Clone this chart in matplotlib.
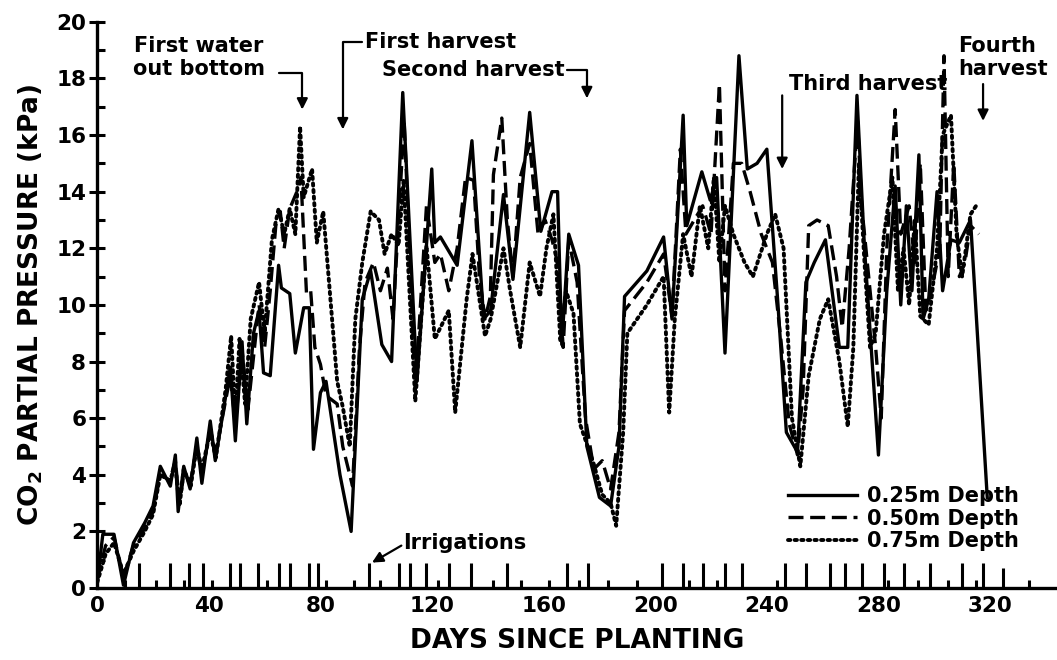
# CO2 partial pressure in the soil profile vs days since planting

import matplotlib
matplotlib.use("Agg")
import matplotlib.pyplot as plt
from matplotlib.lines import Line2D

plt.rcParams['font.family'] = ['DejaVu Sans']
plt.rcParams['font.weight'] = 'bold'
plt.rcParams['axes.labelweight'] = 'bold'

# 1. Data

# 0.25 m depth (solid)
days_25 = [0, 2, 6, 9.4, 13, 17, 20, 22.6, 26.2, 28, 29, 31, 33.3, 35.7, 37.5, 40.5, 42.3,
           47.7, 49.5, 51.9, 53.6, 56, 58, 59.6, 62, 65, 66, 69, 71, 74, 76, 77.5, 80, 82,
           87, 91, 95, 98, 102, 105.5, 109.5, 114.6, 119.9, 121, 123, 129, 134.3, 138.5,
           141, 145.6, 149, 155, 159, 163, 165, 166.5, 169, 172.5, 175.5, 180, 184, 187,
           189, 197, 203, 206, 210, 211.3, 216.7, 219.7, 222, 225, 230, 233, 236.5, 240,
           244, 247, 251, 254, 257, 261, 266, 269, 272.3, 275, 280, 283, 286, 288,
           290, 292, 294.5, 296, 298, 301, 303, 306, 309, 313, 319]
co2_25 = [0.2, 1.9, 1.9, 0.1, 1.6, 2.3, 2.9, 4.3, 3.6, 4.7, 2.7, 4.3, 3.5, 5.3, 3.7, 5.9, 4.5,
          7.8, 5.2, 8.7, 5.8, 9.0, 9.8, 7.6, 7.5, 11.4, 10.6, 10.4, 8.3, 9.9, 9.9, 4.9, 6.9, 7.3,
          4.0, 2.0, 10.2, 11.2, 8.6, 8.0, 17.5, 7.3, 14.8, 12.2, 12.4, 11.4, 15.8, 9.5,
          9.8, 13.9, 10.9, 16.8, 12.6, 14.0, 14.0, 8.6, 12.5, 11.4, 5.0, 3.2, 2.9, 5.0,
          10.3, 11.2, 12.4, 9.5, 16.7, 12.8, 14.7, 13.7, 14.5, 8.3, 18.8, 14.8, 15.0, 15.5,
          10.0, 5.5, 4.8, 10.8, 11.5, 12.3, 8.5, 8.5, 17.4, 12.0, 4.7, 10.5, 14.2, 10.0,
          13.5, 10.5, 15.3, 9.5, 10.2, 14.0, 10.5, 12.3, 12.2, 13.0, 3.2]

# 0.50 m depth (dashed)
days_50 = [0, 3, 6, 9.4, 13, 17, 20, 22.6, 26, 28, 29.5, 31, 33.5, 35.7, 37.5, 40.5, 42.5,
           47.7, 49.5, 52, 54, 58, 60, 62, 64, 65.6, 67, 69, 72, 73, 75, 76.5, 78, 80, 82,
           86, 88, 91.5, 94, 96, 99, 101.5, 104, 106, 110, 114, 118, 121, 123, 126, 129,
           132, 134.9, 137, 139, 140.9, 142, 145, 147, 149, 151.6, 155, 158, 160.5, 163,
           165, 167, 169, 172, 175, 178, 181, 184, 187, 189, 197, 203, 206, 209, 211, 214,
           217, 220, 223, 225, 228, 231, 234, 238, 242, 245, 248, 251, 253, 255, 258, 262,
           265, 267, 269.5, 272.5, 274, 276, 279, 281, 283, 286, 288, 291, 293, 295, 297,
           299, 302, 303.5, 305, 307, 309, 311, 313, 316]
co2_50 = [0.3, 1.5, 1.8, 0.4, 1.5, 2.1, 2.7, 4.0, 3.8, 4.5, 3.0, 4.0, 3.8, 5.0, 4.0, 5.6, 4.8,
          7.5, 5.8, 8.3, 6.3, 10.0, 8.5, 10.5, 12.8, 13.3, 12.0, 13.4, 14.1, 14.5, 10.4, 10.5,
          8.5, 7.9, 6.8, 6.5, 5.0, 3.6, 8.5, 10.8, 11.5, 10.5, 11.3, 9.5, 16.5, 7.0, 13.5,
          11.5, 11.8, 10.5, 12.0, 14.5, 14.4, 11.0, 9.5, 10.3, 14.6, 16.6, 13.0, 11.0, 14.5,
          15.7, 12.5, 13.0, 12.3, 11.5, 8.5, 12.3, 10.8, 6.0, 4.2, 4.5, 3.5, 5.5, 9.8, 10.8,
          11.8, 9.6, 15.5, 12.5, 13.0, 13.5, 12.5, 17.8, 10.5, 15.0, 15.0, 14.0, 12.5, 11.5,
          8.8, 5.8, 4.7, 7.0, 12.8, 13.0, 12.8, 11.0, 9.2, 12.0, 16.5, 13.5, 11.5, 8.5, 6.0,
          12.0, 16.9, 12.5, 13.5, 11.5, 15.0, 9.8, 10.5, 12.0, 18.8, 11.0, 15.0, 11.0, 11.5,
          12.8, 12.5]

# 0.75 m depth (dotted)
days_75 = [0, 3, 6, 9.4, 13, 17, 20, 22.6, 26, 28, 29.5, 31, 33.5, 35.7, 37.5, 40.5, 42.5,
           46, 48, 49.5, 51, 53, 55, 58, 60, 62.6, 65, 67, 69, 71, 72.7, 74, 77, 78.7, 81,
           83.5, 86, 88, 90.5, 92.5, 95, 98, 101, 103, 105.5, 108, 109.8, 114, 118, 121, 126,
           128.3, 132.4, 134.5, 139, 141, 145.6, 148, 151.6, 155, 158.7, 161, 163.5, 166,
           168, 170.7, 173, 177.9, 181, 184, 186, 188.5, 190, 197, 203, 205, 207, 210, 213,
           216, 219, 221, 223, 225, 228, 232, 235, 240, 243, 246, 249, 252, 255, 259, 262,
           266, 269, 271, 273, 275, 277, 279, 282, 285, 287, 289, 291, 293, 295,
           298, 301, 303, 306, 308, 310, 313, 315]
co2_75 = [0.2, 1.2, 1.6, 0.5, 1.3, 2.0, 2.6, 4.0, 3.8, 4.3, 2.9, 4.2, 3.6, 5.0, 4.2, 5.5, 4.6,
          7.0, 8.9, 6.0, 8.8, 6.5, 9.5, 10.8, 9.0, 12.3, 13.4, 12.5, 13.4, 12.5, 16.3, 13.8,
          14.8, 12.2, 13.3, 10.3, 7.3, 6.4, 5.0, 9.5, 11.5, 13.3, 13.0, 11.8, 12.5, 12.1, 14.4,
          6.6, 12.1, 8.8, 9.8, 6.2, 10.2, 11.8, 8.9, 9.5, 12.0, 10.5, 8.5, 11.5, 10.3, 12.0,
          13.2, 8.7, 10.5, 9.7, 5.8, 4.4, 3.3, 3.0, 2.2, 5.5, 9.0, 10.0, 11.0, 6.2, 9.5,
          12.5, 11.0, 13.5, 12.0, 14.5, 11.5, 13.5, 12.5, 11.5, 11.0, 12.5, 13.2, 12.0,
          6.0, 4.3, 7.5, 9.5, 10.2, 8.0, 5.7, 8.5, 15.0, 11.5, 8.5, 9.0, 12.5, 14.5,
          10.5, 12.0, 10.0, 13.0, 9.6, 9.3, 12.0, 16.0, 16.7, 12.5, 11.0, 13.2, 13.5]

# irrigation dates and drawn mark heights
irr_days = [10, 15, 21, 26, 31, 33, 38, 41, 47.5, 51, 57.5, 61, 65, 69, 76, 79, 82, 92,
            97.5, 101.5, 108, 112, 118, 122, 126, 134, 142, 147, 152, 162, 168.5, 172.5,
            176, 183, 193.5, 202.5, 210, 212, 217, 222, 225, 231, 243.5, 246.5, 254, 262.5,
            268, 274, 282, 283.5, 289, 294, 298.5, 305, 310, 315, 317.5, 324.5, 334]
irr_h = [0.3, 0.9, 0.3, 0.9, 0.3, 0.9, 0.9, 0.3, 0.9, 0.9, 0.9, 0.3, 0.9, 0.9, 0.9, 0.9,
         0.3, 0.3, 0.9, 0.3, 0.9, 0.9, 0.9, 0.3, 0.9, 0.9, 0.3, 0.9, 0.3, 0.3, 0.9, 0.3,
         0.9, 0.3, 0.3, 0.9, 0.9, 0.3, 0.9, 0.3, 0.9, 0.9, 0.3, 0.9, 0.9, 0.9, 0.9, 0.9,
         0.9, 0.3, 0.9, 0.3, 0.9, 0.3, 0.9, 0.3, 0.9, 0.7, 0.3]

depth_labels = ["0.25m Depth", "0.50m Depth", "0.75m Depth"]

# 2. Figure

fig = plt.figure(figsize=(10.57, 6.6), dpi=100)
ax = fig.add_axes([0.092, 0.109, 0.908, 0.858])

lw = 2.4
ax.plot(days_25, co2_25, color='black', lw=lw, ls='-')
ax.plot(days_50, co2_50, color='black', lw=lw, ls=(0, (4.5, 2)))
ax.plot(days_75, co2_75, color='black', lw=lw + 0.4, ls=(0, (0.6, 1.1)),
        dash_capstyle='round')

ax.vlines(irr_days, 0, irr_h, color='black', lw=2.2)

ax.set_xlim(0, 344)
ax.set_ylim(0, 20)
ax.set_xticks(range(0, 321, 40))
ax.set_yticks(range(0, 21, 2))
ax.set_yticks(range(1, 20, 2), minor=True)
ax.tick_params(axis='y', which='major', direction='inout', length=12, width=2.2,
               labelsize=15.5, pad=2)
ax.tick_params(axis='y', which='minor', direction='in', length=6, width=2.2)
ax.tick_params(axis='x', which='major', length=0, labelsize=15.5, pad=6)

for s in ['top', 'right']:
    ax.spines[s].set_visible(False)
for s in ['left', 'bottom']:
    ax.spines[s].set_linewidth(2.4)

ax.set_xlabel("DAYS SINCE PLANTING", fontsize=19, labelpad=8)
ax.set_ylabel("CO$_2$ PARTIAL PRESSURE (kPa)", fontsize=19, labelpad=8)

# 3. Annotations

fs = 15
arrow = dict(arrowstyle='-|>', color='black', lw=1.6, mutation_scale=16,
             shrinkA=0, shrinkB=0)
bent = dict(arrow, connectionstyle='angle,angleA=0,angleB=90,rad=0')

ax.text(36.5, 18.75, "First water\nout bottom", fontsize=fs, ha='center', va='center',
        multialignment='center')
ax.annotate("", xy=(73.5, 16.9), xytext=(65, 18.2), arrowprops=bent)

ax.text(96, 19.3, "First harvest", fontsize=fs, ha='left', va='center')
ax.annotate("", xy=(88, 16.2), xytext=(95, 19.3), arrowprops=bent)

ax.text(167.5, 18.3, "Second harvest", fontsize=fs, ha='right', va='center')
ax.annotate("", xy=(175.5, 17.3), xytext=(168.5, 18.3), arrowprops=bent)

ax.text(248, 17.8, "Third harvest", fontsize=fs, ha='left', va='center')
ax.annotate("", xy=(245.5, 14.8), xytext=(245.5, 17.4), arrowprops=arrow)

ax.text(308.5, 18.75, "Fourth\nharvest", fontsize=fs, ha='left', va='center',
        multialignment='left')
ax.annotate("", xy=(317.5, 16.5), xytext=(317.5, 17.8), arrowprops=arrow)

ax.text(109.5, 1.6, "Irrigations", fontsize=fs, ha='left', va='center')
ax.annotate("", xy=(98.5, 0.9), xytext=(109, 1.5), arrowprops=arrow)

handles = [Line2D([], [], color='black', lw=lw, ls='-'),
           Line2D([], [], color='black', lw=lw, ls=(0, (4.5, 2))),
           Line2D([], [], color='black', lw=lw + 0.4, ls=(0, (0.6, 1.1)),
                  dash_capstyle='round')]
ax.legend(handles, depth_labels, loc='upper left', bbox_to_anchor=(0.72, 0.18),
          frameon=False, fontsize=fs, handlelength=3.3, handletextpad=0.5,
          labelspacing=0.12, borderpad=0, borderaxespad=0)

fig.savefig("out.png", dpi=100)
